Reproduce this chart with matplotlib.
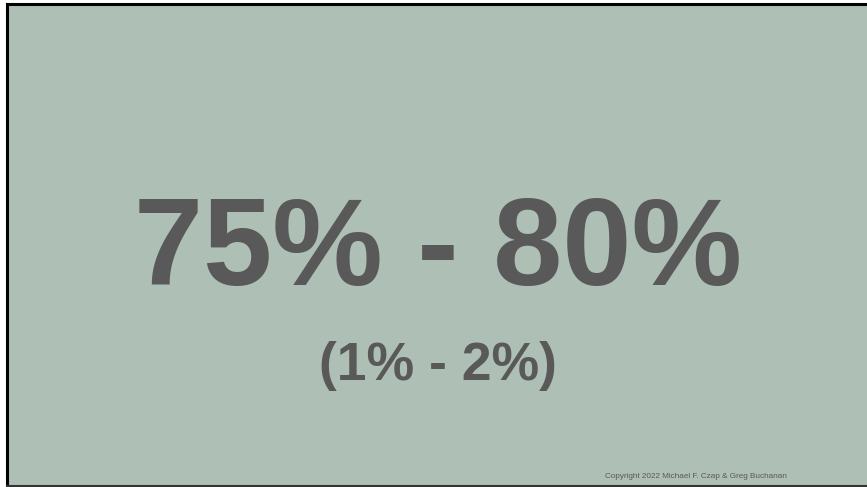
import matplotlib
matplotlib.use("Agg")
import matplotlib.pyplot as plt

# slide text
headline = "75% - 80%"
subline = "(1% - 2%)"
credit = "Copyright 2022 Michael F. Czap & Greg Buchanan"

bg_color = "#aebfb5"
text_color = "#595959"

W, H = 867, 487
fig = plt.figure(figsize=(W / 100, H / 100), dpi=100, facecolor="white")

# slide panel with black frame on left, top and bottom
ax = fig.add_axes([6.5 / W, 1 / H, 1 - 6.5 / W, (H - 4.5) / H])
ax.set_facecolor(bg_color)
ax.set_xticks([])
ax.set_yticks([])
ax.set_xlim(0, W)
ax.set_ylim(H, 0)
for side in ["left", "top", "bottom"]:
    ax.spines[side].set_color("black")
    ax.spines[side].set_linewidth(2.2)
ax.spines["bottom"].set_color("#333333")
ax.spines["bottom"].set_linewidth(1.5)
ax.spines["right"].set_visible(False)

font = "Liberation Sans"

fig.text(438 / W, 1 - 285 / H, headline, ha="center", va="baseline",
         fontsize=89.5, fontweight="bold", color=text_color, family=font)
fig.text(437.5 / W, 1 - 380 / H, subline, ha="center", va="baseline",
         fontsize=38.5, fontweight="bold", color=text_color, family=font)
fig.text(695.5 / W, 1 - 477.5 / H, credit, ha="center", va="baseline",
         fontsize=5.9, color=text_color, family=font)

fig.savefig("out.png", dpi=100, facecolor="white")
